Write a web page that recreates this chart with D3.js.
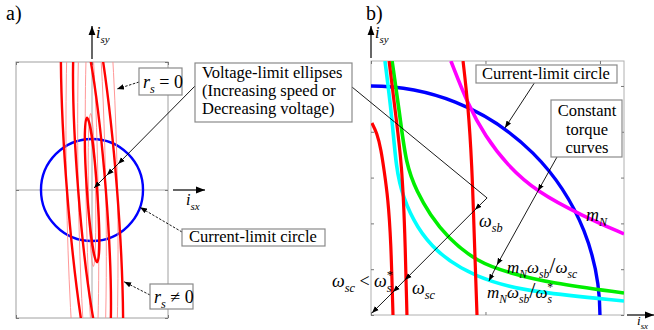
<!DOCTYPE html>
<html>
<head>
<meta charset="utf-8">
<script src="https://cdn.jsdelivr.net/npm/d3@7"></script>
<style>
  body { margin: 0; background: #fff; }
  svg { display: block; }
  svg text { font-family: "Liberation Serif", "DejaVu Serif", serif; }
</style>
</head>
<body>
<script>
// ---- panel a: voltage-limit ellipses (units = current-limit radius) ----
var thickMajor = [1.42, 3.28, 4.65];
var thickMinor = [0.10, 0.27, 0.49];
var thickTilt  = [4, 4.5, 4.5];          // degrees, top leans left
var thinMajor  = [1.5, 3.2, 4.5, 6.0];
var thinMinor  = [0.07, 0.12, 0.27, 0.50];
var thinTilt   = [1, 1, 1, 1];
var limitRadiusA = 1;

// ---- panel b: field weakening curves (units = current-limit radius) ----
var limitRadiusB = 1;
var redLow  = [[0.004,0.838],[0.026,0.795],[0.044,0.721],[0.057,0.633],[0.074,0.511],[0.087,0.328],[0.096,0]];
var redSc   = [[0.079,1.109],[0.109,0.865],[0.135,0.655],[0.148,0.371],[0.157,0]];
var redSb   = [[0.402,1.109],[0.424,0.917],[0.441,0.655],[0.450,0.371],[0.463,0]];
var torqueN   = [[0.349,1.109],[0.424,0.917],[0.498,0.782],[0.594,0.655],[0.725,0.537],[0.926,0.432],[1.105,0.354]];
var torqueSc  = [[0.092,1.109],[0.127,0.865],[0.153,0.655],[0.201,0.537],[0.258,0.437],[0.332,0.341],[0.463,0.231],[0.607,0.183],[0.782,0.140],[1.105,0.096]];
var torqueSs  = [[0.061,1.109],[0.092,0.865],[0.109,0.642],[0.140,0.511],[0.201,0.380],[0.288,0.275],[0.389,0.205],[0.520,0.144],[0.707,0.100],[1.105,0.061]];
var xTicksB = [0, 0.5, 1.0];
var yTicksB = [0, 0.2, 0.4, 0.6, 0.8, 1.0];

var W = 654, H = 330;

var svg = d3.select("body").append("svg")
    .attr("width", W)
    .attr("height", H);

var defs = svg.append("defs");
function marker(id, size) {
    defs.append("marker")
        .attr("id", id)
        .attr("viewBox", "0 0 10 10")
        .attr("refX", 10).attr("refY", 5)
        .attr("markerWidth", size).attr("markerHeight", size)
        .attr("markerUnits", "userSpaceOnUse")
        .attr("orient", "auto")
      .append("path")
        .attr("d", "M0,1.2 L10,5 L0,8.8 Z")
        .attr("fill", "#000");
}
marker("ah", 7);
marker("ax", 9);

function math(g, x, y, parts, size, anchor) {
    var t = g.append("text")
        .attr("x", x).attr("y", y)
        .attr("font-size", size)
        .attr("text-anchor", anchor || "start");
    var shift = 0;
    parts.forEach(function(p) {
        var s = p[0], kind = p[1];
        var ts = t.append("tspan").text(s);
        var target = 0, fs = size;
        if (kind === "sub") { target = 0.3 * size; fs = size * 0.68; }
        if (kind === "sup") { target = -0.42 * size; fs = size * 0.68; ts.attr("dx", -0.3 * size); }
        if (kind === "big") { fs = size * 1.3; }
        ts.attr("dy", target - shift).attr("font-size", fs);
        shift = target;
        if (kind !== "r" && kind !== "big") ts.attr("font-style", "italic");
    });
    return t;
}

function boxLabel(x, y, w, h) {
    svg.append("rect")
        .attr("x", x).attr("y", y).attr("width", w).attr("height", h)
        .attr("fill", "#fff").attr("stroke", "#8a8a8a").attr("stroke-width", 1.2);
}

function arrowPath(pts, dashed) {
    // pts: [x, y, head?]
    for (var i = 1; i < pts.length; i++) {
        var l = svg.append("line")
            .attr("x1", pts[i-1][0]).attr("y1", pts[i-1][1])
            .attr("x2", pts[i][0]).attr("y2", pts[i][1])
            .attr("stroke", "#000").attr("stroke-width", 0.9);
        if (dashed) l.attr("stroke-dasharray", "2.5,1.5");
        if (pts[i][2]) l.attr("marker-end", "url(#ah)");
    }
}

function ticks(g, axis, tx, ty) {
    var a = g.append("g").attr("transform", "translate(" + tx + "," + ty + ")").call(axis);
    a.select(".domain").remove();
    a.selectAll("line").attr("stroke", "#777");
}

// ================= panel a =================
var boxA = {x0: 16, x1: 168, y0: 62, y1: 318};
var xa = d3.scaleLinear().domain([-1.49, 1.49]).range([boxA.x0, boxA.x1]);
var ya = d3.scaleLinear().domain([-2.51, 2.51]).range([boxA.y1, boxA.y0]);

defs.append("clipPath").attr("id", "clipA").append("rect")
    .attr("x", boxA.x0).attr("y", boxA.y0)
    .attr("width", boxA.x1 - boxA.x0).attr("height", boxA.y1 - boxA.y0);

var gA = svg.append("g");
gA.append("rect")
    .attr("x", boxA.x0).attr("y", boxA.y0)
    .attr("width", boxA.x1 - boxA.x0).attr("height", boxA.y1 - boxA.y0)
    .attr("fill", "none").attr("stroke", "#a0a0a0");
gA.append("line").attr("x1", xa(-1.49)).attr("x2", xa(1.49)).attr("y1", ya(0)).attr("y2", ya(0))
    .attr("stroke", "#a8a8a8");
gA.append("line").attr("x1", xa(0)).attr("x2", xa(0)).attr("y1", ya(-2.51)).attr("y2", ya(2.51))
    .attr("stroke", "#a8a8a8");

var tvxA = [-1.49, 0, 1.49], tvyA = [-2.51, 0, 2.51];
ticks(gA, d3.axisTop(xa).tickValues(tvxA).tickSize(-3).tickFormat(""), 0, boxA.y0);
ticks(gA, d3.axisBottom(xa).tickValues(tvxA).tickSize(-3).tickFormat(""), 0, boxA.y1);
ticks(gA, d3.axisLeft(ya).tickValues(tvyA).tickSize(-3).tickFormat(""), boxA.x0, 0);
ticks(gA, d3.axisRight(ya).tickValues(tvyA).tickSize(-3).tickFormat(""), boxA.x1, 0);

var cA = gA.append("g").attr("clip-path", "url(#clipA)");
var cxA = xa(0), cyA = ya(0);

cA.append("circle")
    .attr("cx", cxA).attr("cy", cyA).attr("r", xa(limitRadiusA) - xa(0))
    .attr("fill", "none").attr("stroke", "#0000ff").attr("stroke-width", 2.4);

thinMajor.forEach(function(m, i) {
    cA.append("ellipse")
        .attr("cx", cxA).attr("cy", cyA)
        .attr("rx", xa(thinMinor[i]) - xa(0)).attr("ry", ya(0) - ya(m))
        .attr("transform", "rotate(" + (-thinTilt[i]) + "," + cxA + "," + cyA + ")")
        .attr("fill", "none").attr("stroke", "#ff8c8c").attr("stroke-width", 0.9);
});
thickMajor.forEach(function(m, i) {
    cA.append("ellipse")
        .attr("cx", cxA).attr("cy", cyA)
        .attr("rx", xa(thickMinor[i]) - xa(0)).attr("ry", ya(0) - ya(m))
        .attr("transform", "rotate(" + (-thickTilt[i]) + "," + cxA + "," + cyA + ")")
        .attr("fill", "none").attr("stroke", "#ff0000").attr("stroke-width", 2.4);
});

// axis arrows a
svg.append("line").attr("x1", xa(0)).attr("x2", xa(0)).attr("y1", boxA.y0 - 3).attr("y2", 26)
    .attr("stroke", "#000").attr("stroke-width", 1.2).attr("marker-end", "url(#ax)");
svg.append("line").attr("x1", boxA.x1 + 5).attr("x2", 205).attr("y1", ya(0)).attr("y2", ya(0))
    .attr("stroke", "#000").attr("stroke-width", 1.2).attr("marker-end", "url(#ax)");
math(svg, 96, 38, [["i","i"],["sy","sub"]], 16);
math(svg, 186, 205, [["i","i"],["sx","sub"]], 16);
svg.append("text").attr("x", 6).attr("y", 20).attr("font-size", 20).text("a)");

// ================= panel b =================
var boxB = {x0: 371, x1: 624, y0: 61, y1: 315};
var xb = d3.scaleLinear().domain([0, 1.105]).range([boxB.x0, boxB.x1]);
var yb = d3.scaleLinear().domain([0, 1.109]).range([boxB.y1, boxB.y0]);

defs.append("clipPath").attr("id", "clipB").append("rect")
    .attr("x", boxB.x0).attr("y", boxB.y0)
    .attr("width", boxB.x1 - boxB.x0).attr("height", boxB.y1 - boxB.y0);

var gB = svg.append("g");
gB.append("rect")
    .attr("x", boxB.x0).attr("y", boxB.y0)
    .attr("width", boxB.x1 - boxB.x0).attr("height", boxB.y1 - boxB.y0)
    .attr("fill", "none").attr("stroke", "#b0b0b0");
ticks(gB, d3.axisTop(xb).tickValues(xTicksB).tickSize(-3).tickFormat(""), 0, boxB.y0);
ticks(gB, d3.axisBottom(xb).tickValues(xTicksB).tickSize(-3).tickFormat(""), 0, boxB.y1);
ticks(gB, d3.axisLeft(yb).tickValues(yTicksB).tickSize(-3).tickFormat(""), boxB.x0, 0);
ticks(gB, d3.axisRight(yb).tickValues(yTicksB).tickSize(-3).tickFormat(""), boxB.x1, 0);

var cB = gB.append("g").attr("clip-path", "url(#clipB)");
var lineB = d3.line()
    .x(function(d) { return xb(d[0]); })
    .y(function(d) { return yb(d[1]); })
    .curve(d3.curveBasis);

cB.append("circle")
    .attr("cx", xb(0)).attr("cy", yb(0)).attr("r", xb(limitRadiusB) - xb(0))
    .attr("fill", "none").attr("stroke", "#0000ff").attr("stroke-width", 3.4);

[[torqueN, "#ff00ff"], [torqueSc, "#00ee00"], [torqueSs, "#00ffff"]].forEach(function(c) {
    cB.append("path").datum(c[0])
        .attr("fill", "none").attr("stroke", c[1]).attr("stroke-width", 3.6)
        .attr("d", lineB);
});
[redLow, redSc, redSb].forEach(function(c) {
    cB.append("path").datum(c)
        .attr("fill", "none").attr("stroke", "#ff0000").attr("stroke-width", 3.2)
        .attr("d", lineB);
});

// axis arrows b
svg.append("line").attr("x1", xb(0)).attr("x2", xb(0)).attr("y1", boxB.y0 - 3).attr("y2", 26)
    .attr("stroke", "#000").attr("stroke-width", 1.2).attr("marker-end", "url(#ax)");
svg.append("line").attr("x1", boxB.x1 + 3).attr("x2", 654).attr("y1", yb(0)).attr("y2", yb(0))
    .attr("stroke", "#000").attr("stroke-width", 1.2).attr("marker-end", "url(#ax)");
math(svg, 375, 38, [["i","i"],["sy","sub"]], 16);
math(svg, 637, 325, [["i","i"],["sx","sub"]], 13);
svg.append("text").attr("x", 366).attr("y", 20).attr("font-size", 20).text("b)");

// ================= annotations =================
// voltage-limit ellipses (both panels)
arrowPath([[195, 86], [xa(0.51), ya(0.51), 1], [xa(0.29), ya(0.29), 1], [xa(0.04), ya(0.04), 1]], false);
arrowPath([[352, 87], [xb(0.507), yb(0.511)], [xb(0.454), yb(0.459), 1], [xb(0.148), yb(0.153), 1],
           [xb(0.096), yb(0.100), 1], [xb(0.004), yb(0.009), 1]], false);
// panel a pointers
arrowPath([[139, 82], [xa(0.49), ya(1.98), 1]], true);
arrowPath([[182, 232], [xa(0.94), ya(-0.34), 1]], true);
arrowPath([[150, 295], [xa(0.63), ya(-1.80), 1]], true);
// panel b pointers
arrowPath([[535, 82], [xb(0.585), yb(0.817), 1]], false);
arrowPath([[557, 157], [xb(0.729), yb(0.541), 1], [xb(0.550), yb(0.218), 1], [xb(0.515), yb(0.148), 1]], false);

// boxed labels
boxLabel(139, 68, 43, 27);
math(svg, 143, 88, [["r","i"],["s","sub"],[" = 0","r"]], 18);

boxLabel(150, 284, 43, 25);
math(svg, 154, 303, [["r","i"],["s","sub"],[" \u2260 0","r"]], 18);

boxLabel(195, 63, 157, 59);
["Voltage-limit ellipses", "(Increasing speed or", "Decreasing voltage)"].forEach(function(s, i) {
    svg.append("text").attr("x", 202).attr("y", 78 + i * 18).attr("font-size", 16.5).text(s);
});

boxLabel(182, 229, 143, 17);
svg.append("text").attr("x", 189).attr("y", 242).attr("font-size", 16.5).text("Current-limit circle");

boxLabel(476, 65, 141, 18);
svg.append("text").attr("x", 482).attr("y", 79).attr("font-size", 16.5).text("Current-limit circle");

boxLabel(551, 100, 71, 57);
["Constant", "torque", "curves"].forEach(function(s, i) {
    svg.append("text").attr("x", 587).attr("y", 116 + i * 18.5).attr("font-size", 16.5)
        .attr("text-anchor", "middle").text(s);
});

// math labels in panel b
math(svg, 586, 221, [["m","i"],["N","sub"]], 18);
math(svg, 479, 227, [["\u03c9","i"],["sb","sub"]], 18);
math(svg, 412, 294, [["\u03c9","i"],["sc","sub"]], 18);
math(svg, 332, 287, [["\u03c9","i"],["sc","sub"],[" < ","r"],["\u03c9","i"],["s","sub"],["*","sup"]], 18);
math(svg, 507, 273, [["m","i"],["N","sub"],["\u03c9","i"],["sb","sub"],["/","big"],["\u03c9","i"],["sc","sub"]], 17);
math(svg, 487, 298, [["m","i"],["N","sub"],["\u03c9","i"],["sb","sub"],["/","big"],["\u03c9","i"],["s","sub"],["*","sup"]], 17);
</script>
</body>
</html>
